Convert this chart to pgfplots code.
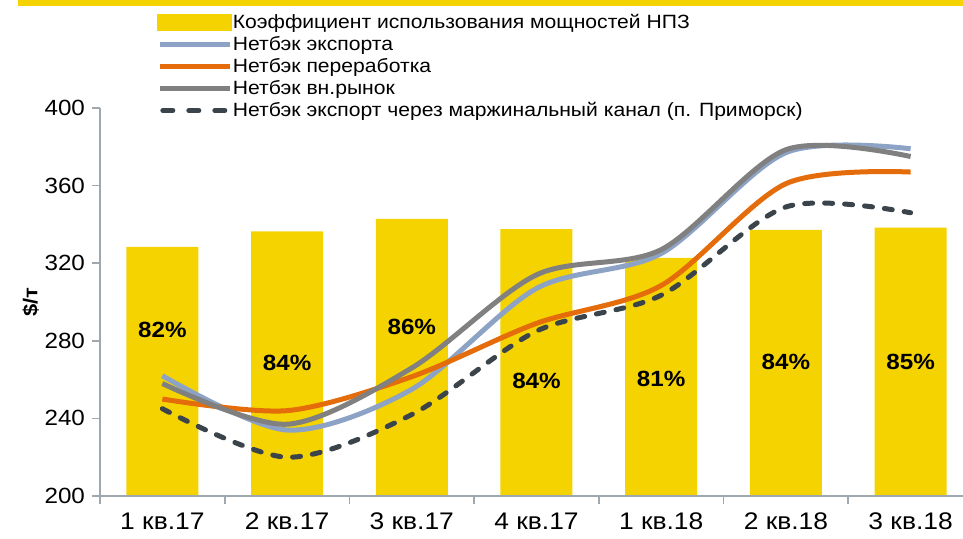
\documentclass[border=0pt]{standalone}
\usepackage{pgfplots}
\pgfplotsset{compat=1.18}
\usepackage{pgfplotstable}
\usepackage{fontspec}
\setmainfont{Liberation Sans}[FakeStretch=1.1]

\definecolor{barY}{RGB}{245,211,0}
\definecolor{expBlue}{RGB}{141,163,198}
\definecolor{procOr}{RGB}{228,108,10}
\definecolor{domGr}{RGB}{128,128,128}
\definecolor{primDk}{RGB}{58,68,74}
\definecolor{axGr}{RGB}{160,168,175}

% capacity utilisation, %
\pgfplotstableread{
q pct
0 82.1
1 84.1
2 85.7
3 84.4
4 80.7
5 84.3
6 84.6
}\bars

% label positions inside bars (same % scale), label value
\pgfplotstableread{
q pos lab
0 71.4 82
1 67.2 84
2 71.8 86
3 64.8 84
4 65.1 81
5 67.3 84
6 67.3 85
}\labs

% netbacks, $/t
\pgfplotstableread{
q exp proc dom prim
0 262 250   258   245
1 234 244   237   220
2 255 261.5 266   242
3 307 289   314   285
4 325 308.5 327   303.5
5 377 361   378.5 349
6 379 367   375   346
}\nb

\pgfplotsset{
  geom/.style={
    scale only axis, width=431.5pt, height=194pt,
    at={(50pt,21pt)}, anchor=south west,
    xmin=-0.5, xmax=6.42,
  },
  dashleg/.style={legend image code/.code={%
    \draw[##1, dash pattern=on 5pt off 8pt] (1.5pt,0pt) -- (35pt,0pt);}},
}

\begin{document}
\begin{tikzpicture}
\path[use as bounding box] (0,0) rectangle (481.5pt,269pt);
\fill[barY] (9pt,266pt) rectangle (481.5pt,269pt);

\begin{axis}[geom, ymin=50, ymax=100, axis lines=none,
  /pgf/number format/assume math mode=true]
\addplot[ybar, bar width=36pt, fill=barY, draw=none] table[x=q, y=pct] {\bars};
\addplot[draw=none, mark=none, point meta=explicit,
  nodes near coords={\pgfmathprintnumber{\pgfplotspointmeta}\%},
  every node near coord/.append style={anchor=center,
    font=\fontsize{11}{13}\selectfont\bfseries}]
  table[x=q, y=pos, meta=lab] {\labs};
\end{axis}

\begin{axis}[geom, ymin=200, ymax=400,
  axis x line=bottom, axis y line=left,
  axis line style={axGr, line width=0.8pt, -},
  tick style={axGr, line width=0.8pt},
  tick align=outside, major tick length=4pt,
  ytick={200,240,...,400},
  xtick={-0.5,0.5,...,5.5}, xticklabels={},
  extra x ticks={0,...,6},
  extra x tick labels={1 кв.17,2 кв.17,3 кв.17,4 кв.17,1 кв.18,2 кв.18,3 кв.18},
  extra x tick style={major tick length=0pt,
    xticklabel style={font=\fontsize{12}{14}\selectfont, yshift=-5pt}},
  yticklabel style={font=\fontsize{11}{13}\selectfont},
  /pgf/number format/assume math mode=true,
  ylabel={\bfseries \$/т},
  ylabel style={font=\fontsize{10}{12}\selectfont, yshift=-4pt},
  legend image code/.code={\draw[#1] (0pt,0pt) -- (35pt,0pt);},
  legend style={draw=none, fill=none, at={(0.059,1.26)}, anchor=north west,
    font=\fontsize{9.6}{11.5}\selectfont, row sep=0pt, /tikz/column sep=0pt,
    nodes={inner sep=0.25pt, text height=8pt, text depth=2.5pt}},
  legend cell align=left,
  every axis plot/.append style={line width=2.5pt, smooth},
]
\addlegendimage{legend image code/.code={\fill[barY] (0pt,-3pt) rectangle (35pt,3pt);}}
\addlegendentry{Коэффициент использования мощностей НПЗ}
\addplot[expBlue] table[x=q, y=exp] {\nb};
\addlegendentry{Нетбэк экспорта}
\addplot[procOr] table[x=q, y=proc] {\nb};
\addlegendentry{Нетбэк переработка}
\addplot[domGr] table[x=q, y=dom] {\nb};
\addlegendentry{Нетбэк вн.рынок}
\addplot[primDk, dash pattern=on 4pt off 6pt, line cap=round, dashleg]
  table[x=q, y=prim] {\nb};
\addlegendentry{Нетбэк экспорт через маржинальный канал (п. Приморск)}
\end{axis}
\end{tikzpicture}
\end{document}
